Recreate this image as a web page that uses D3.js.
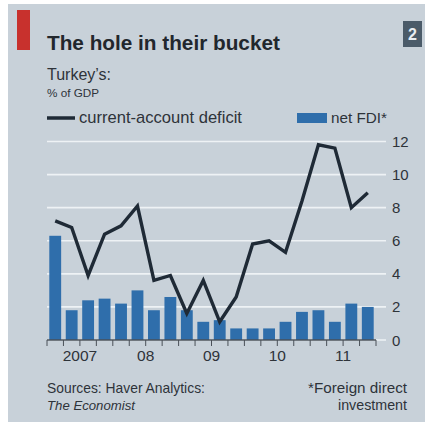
<!DOCTYPE html>
<html><head><meta charset="utf-8">
<script src="https://cdn.jsdelivr.net/npm/d3@7"></script>
<style>html,body{margin:0;padding:0;background:#fff;}svg{display:block;}</style>
</head><body>
<script>
const quarters = ["2007Q1","2007Q2","2007Q3","2007Q4","2008Q1","2008Q2","2008Q3","2008Q4","2009Q1","2009Q2","2009Q3","2009Q4","2010Q1","2010Q2","2010Q3","2010Q4","2011Q1","2011Q2","2011Q3","2011Q4"];
const currentAccountDeficit = [7.2,6.8,3.9,6.4,6.9,8.1,3.6,3.9,1.6,3.6,1.1,2.6,5.8,6.0,5.3,8.4,11.8,11.6,8.0,8.9];
const netFDI = [6.3,1.8,2.4,2.5,2.2,3.0,1.8,2.6,1.8,1.1,1.2,0.7,0.7,0.7,1.1,1.7,1.8,1.1,2.2,2.0];
const yearLabels = ["2007","08","09","10","11"];
const yTicks = [0,2,4,6,8,10,12];

const W = 425, H = 425;
const font = "'Liberation Sans', Arial, sans-serif";
const svg = d3.select("body").append("svg").attr("width", W).attr("height", H);

// fit a text element's font size so that it spans a target width
function fit(sel, target) {
  const n = sel.node();
  const fs = parseFloat(sel.attr("font-size"));
  const w = n.getComputedTextLength();
  if (w > 0) sel.attr("font-size", (fs * target / w).toFixed(2));
  return sel;
}
function txt(xp, yp, s, size, opts = {}) {
  const t = svg.append("text").attr("x", xp).attr("y", yp).attr("font-family", font)
    .attr("font-size", size).attr("fill", opts.fill || "#2e3339").text(s);
  if (opts.bold) t.attr("font-weight", "bold");
  if (opts.italic) t.attr("font-style", "italic");
  if (opts.anchor) t.attr("text-anchor", opts.anchor);
  if (opts.width) fit(t, opts.width);
  return t;
}

svg.append("rect").attr("x", 8).attr("y", 4).attr("width", W - 8).attr("height", 418).attr("fill", "#c8d1d9");
svg.append("rect").attr("x", 17).attr("y", 10).attr("width", 13).attr("height", 40).attr("fill", "#c8312d");
svg.append("rect").attr("x", 403).attr("y", 21).attr("width", 19).attr("height", 26).attr("fill", "#4b5b69");
txt(412.5, 40, "2", 16, {bold: true, fill: "#e8edf1", anchor: "middle"});

txt(47, 50, "The hole in their bucket", 24, {bold: true, fill: "#22272d", width: 233});
txt(47, 80, "Turkey\u2019s:", 16, {width: 64});
txt(47, 97, "% of GDP", 12, {width: 52});

// legend
svg.append("line").attr("x1", 47).attr("x2", 75).attr("y1", 118).attr("y2", 118)
  .attr("stroke", "#1f2a36").attr("stroke-width", 3.5);
txt(79, 123, "current-account deficit", 16, {width: 163});
svg.append("rect").attr("x", 297).attr("y", 113).attr("width", 30).attr("height", 10).attr("fill", "#2f6eab");
txt(331, 123, "net FDI*", 16, {width: 56});

const x = d3.scaleBand().domain(quarters).range([47, 376]).paddingInner(0.28).paddingOuter(0.14);
const y = d3.scaleLinear().domain([0, 12]).range([340, 141.5]);

// gridlines
svg.append("g").selectAll("line").data(yTicks).join("line")
  .attr("x1", 47).attr("x2", 386).attr("y1", d => y(d)).attr("y2", d => y(d))
  .attr("stroke", "#eef2f5").attr("stroke-width", 1.6);
svg.append("g").selectAll("text").data(yTicks).join("text")
  .attr("x", 392).attr("y", d => y(d) + 5.5).attr("font-family", font).attr("font-size", 15)
  .attr("fill", "#2e3339").text(d => d);

// bars
svg.append("g").selectAll("rect").data(netFDI).join("rect")
  .attr("x", (d, i) => x(quarters[i])).attr("width", x.bandwidth())
  .attr("y", d => y(d)).attr("height", d => y(0) - y(d)).attr("fill", "#2f6eab");

// x axis ticks
const step = x.step();
const x0 = x.range()[0];
const tickPos = d3.range(21).map(i => x0 + i * step);
svg.append("line").attr("x1", 47).attr("x2", 376).attr("y1", y(0)).attr("y2", y(0))
  .attr("stroke", "#4a5058").attr("stroke-width", 1.3);
svg.append("g").selectAll("line").data(tickPos).join("line")
  .attr("x1", d => d).attr("x2", d => d).attr("y1", y(0)).attr("y2", y(0) + 6)
  .attr("stroke", "#4a5058").attr("stroke-width", 1);
svg.append("g").selectAll("text").data(yearLabels).join("text")
  .attr("x", (d, i) => x0 + (i * 4 + 2) * step).attr("y", 361).attr("text-anchor", "middle")
  .attr("font-family", font).attr("font-size", 15.5).attr("fill", "#2e3339").text(d => d);

// line
const line = d3.line().x((d, i) => x(quarters[i]) + x.bandwidth() / 2).y(d => y(d));
svg.append("path").datum(currentAccountDeficit).attr("d", line).attr("fill", "none")
  .attr("stroke", "#1f2a36").attr("stroke-width", 3.4).attr("stroke-linejoin", "miter");

// footer
txt(47, 393, "Sources: Haver Analytics:", 15, {width: 158});
txt(47, 410, "The Economist", 15, {italic: true, width: 88});
txt(407, 393, "*Foreign direct", 15, {anchor: "end", width: 99});
txt(407, 410, "investment", 15, {anchor: "end", width: 69});
</script>
</body></html>
